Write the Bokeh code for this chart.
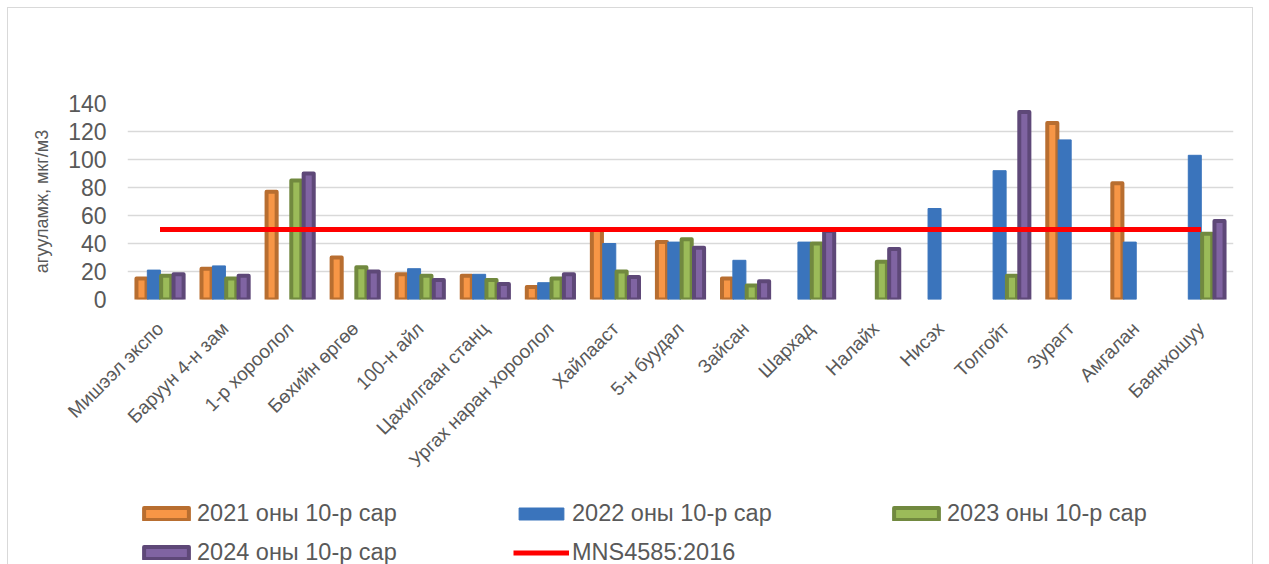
import numpy as np
from bokeh.plotting import figure
from bokeh.layouts import column
from bokeh.models import ColumnDataSource, FactorRange, Legend, LegendItem, Range1d
from bokeh.transform import dodge
from bokeh.embed import file_html
from bokeh.resources import INLINE

nan = np.nan
categories = ["Мишээл экспо", "Баруун 4-н зам", "1-р хороолол", "Бөхийн өргөө",
              "100-н айл", "Цахилгаан станц", "Ургах наран хороолол", "Хайлааст",
              "5-н буудал", "Зайсан", "Шархад", "Налайх", "Нисэх", "Толгойт",
              "Зурагт", "Амгалан", "Баянхошуу"]
y2021 = [15, 22, 77, 30, 18, 17, 9, 50, 41, 15, nan, nan, nan, nan, 126, 83, nan]
y2022 = [21, 24, nan, nan, 22, 18, 12, 40, 41, 28, 41, nan, 65, 92, 114, 41, 103]
y2023 = [17, 15, 85, 23, 17, 14, 15, 20, 43, 10, 40, 27, nan, 17, nan, nan, 47]
y2024 = [18, 17, 90, 20, 14, 11, 18, 16, 37, 13, 49, 36, nan, 134, nan, nan, 56]
norm = [50] * len(categories)
y_ticks = [0, 20, 40, 60, 80, 100, 120, 140]
series_names = ["2021 оны 10-р сар", "2022 оны 10-р сар", "2023 оны 10-р сар",
                "2024 оны 10-р сар", "MNS4585:2016"]
y_label = "агууламж, мкг/м3"

src = ColumnDataSource(dict(cat=categories,
                            y2021=np.array(y2021, dtype=float),
                            y2022=np.array(y2022, dtype=float),
                            y2023=np.array(y2023, dtype=float),
                            y2024=np.array(y2024, dtype=float),
                            norm=norm))

FONT = "Liberation Sans"
GREY = "#595959"

styles = [
    dict(fill_color="#F79646", line_color="#B86E30", line_width=4, line_join="round"),
    dict(fill_color="#3A74BC", line_color="#3A74BC", line_width=1),
    dict(fill_color="#9BBB59", line_color="#71893F", line_width=4, line_join="round"),
    dict(fill_color="#8064A2", line_color="#5E4878", line_width=4, line_join="round"),
]
widths = [0.155, 0.2, 0.155, 0.155]
offsets = [-0.285, -0.095, 0.095, 0.285]
cols = ["y2021", "y2022", "y2023", "y2024"]
line_style = dict(line_color="#FF0000", line_width=5)

p = figure(x_range=FactorRange(*categories), y_range=(0, 140),
           width=1244, height=480, output_backend="svg", toolbar_location=None,
           min_border_left=119, min_border_right=19, min_border_top=95,
           min_border_bottom=189)
p.outline_line_color = None
p.background_fill_color = "white"
p.border_fill_color = "white"

for c, w, o, s in zip(cols, widths, offsets, styles):
    p.vbar(x=dodge("cat", o, range=p.x_range), top=c, width=w, source=src, **s)
p.line(x="cat", y="norm", source=src, **line_style)

p.ygrid.grid_line_color = "#D9D9D9"
p.ygrid.grid_line_width = 1.5
p.xgrid.grid_line_color = None

p.yaxis.ticker = y_ticks
p.yaxis.axis_line_color = None
p.yaxis.major_tick_line_color = None
p.yaxis.minor_tick_line_color = None
p.yaxis.major_tick_out = 0
p.yaxis.minor_tick_out = 0
p.yaxis.major_label_standoff = 21
p.yaxis.major_label_text_font = FONT
p.yaxis.major_label_text_font_size = "23px"
p.yaxis.major_label_text_color = GREY
p.yaxis.axis_label = y_label
p.yaxis.axis_label_text_font = FONT
p.yaxis.axis_label_text_font_size = "18px"
p.yaxis.axis_label_text_font_style = "normal"
p.yaxis.axis_label_text_color = GREY
p.yaxis.axis_label_standoff = 13

p.xaxis.axis_line_color = None
p.xaxis.major_tick_line_color = None
p.xaxis.minor_tick_line_color = None
p.xaxis.major_label_orientation = np.pi / 4
p.xaxis.major_label_standoff = 20
p.xaxis.major_label_text_font = FONT
p.xaxis.major_label_text_font_size = "19px"
p.xaxis.major_label_text_color = GREY

# legend strip (its frame is aligned with the main plot's frame by the column layout)
q = figure(width=1244, height=76, output_backend="svg", toolbar_location=None,
           x_range=Range1d(0, 1), y_range=Range1d(0, 1),
           x_axis_location=None, y_axis_location=None,
           min_border_left=0, min_border_right=0, min_border_top=0, min_border_bottom=0)
q.outline_line_color = None
q.grid.grid_line_color = None
q.border_fill_color = "white"
q.background_fill_color = "white"
proxy = ColumnDataSource(dict(x=[nan], y=[nan]))
leg_renderers = [q.vbar(x="x", top="y", width=0.1, source=proxy, **s) for s in styles]
leg_renderers.append(q.line(x="x", y="y", source=proxy, **line_style))

legend = Legend(items=[LegendItem(label=n, renderers=[r]) for n, r in zip(series_names, leg_renderers)],
                orientation="horizontal", ncols=3, location=(11, -2))
legend.padding = 0
legend.margin = 0
legend.border_line_color = None
legend.background_fill_alpha = 0
legend.glyph_width = 56
legend.glyph_height = 15
legend.label_standoff = 3
legend.label_width = 304
legend.spacing = 12
legend.label_text_font = FONT
legend.label_text_font_size = "23.5px"
legend.label_text_color = GREY
q.add_layout(legend, "center")

layout = column(p, q, spacing=0,
                styles={"margin-left": "8px", "margin-top": "8px",
                        "outline": "1.5px solid #D9D9D9"})

open("out.html", "w").write(file_html(layout, INLINE))
